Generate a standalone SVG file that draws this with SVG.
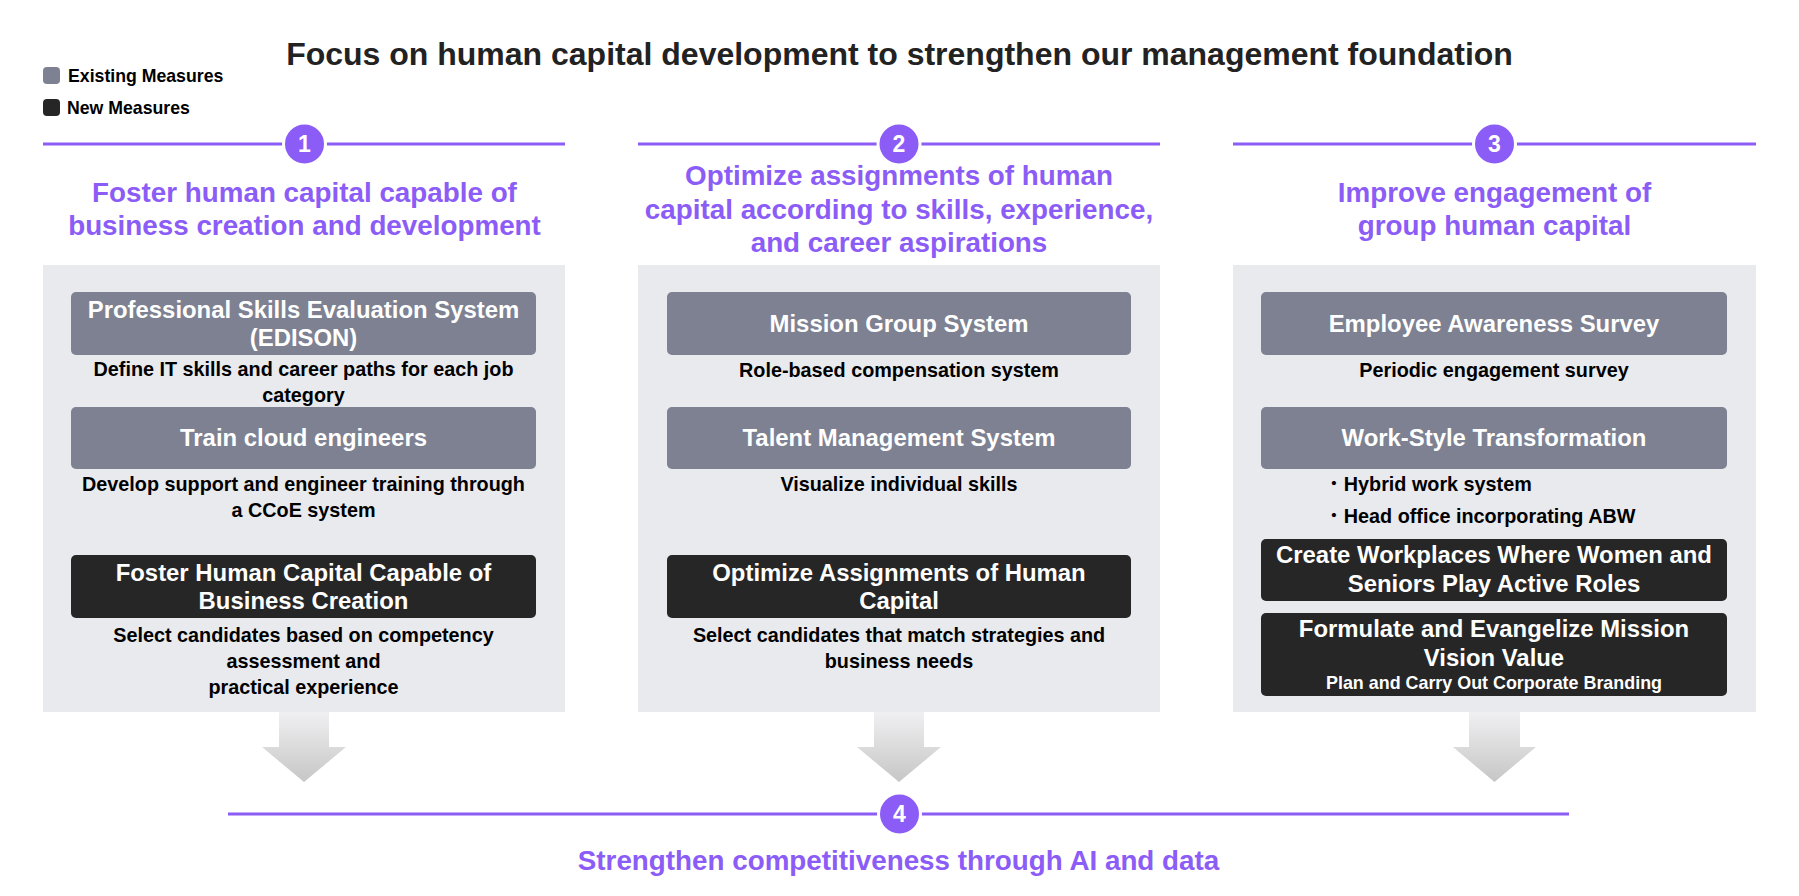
<svg xmlns="http://www.w3.org/2000/svg" width="1799" height="896" viewBox="0 0 1799 896">
<style>
  text { font-family: "Liberation Sans", Arial, "Noto Sans CJK JP", sans-serif; font-weight: bold; }
  .title { font-size: 32px; fill: #222222; text-anchor: middle; }
  .legend { font-size: 17.7px; fill: #000000; }
  .head { font-size: 27.8px; fill: #8b5cf6; text-anchor: middle; }
  .num { font-size: 23px; fill: #ffffff; text-anchor: middle; }
  .panel { fill: #e9eaee; }
  .exist { fill: #7d8191; }
  .new { fill: #262626; }
  .btitle { font-size: 23.9px; fill: #ffffff; text-anchor: middle; }
  .bsmall { font-size: 17.9px; fill: #ffffff; text-anchor: middle; }
  .desc { font-size: 19.8px; fill: #000000; text-anchor: middle; }
  .descl { font-size: 19.8px; fill: #000000; }
  .dot { font-family: "Noto Sans CJK JP", sans-serif; font-weight: normal; }
  .rule { stroke: #8b5cf6; stroke-width: 3; fill: none; }
  .badge { fill: #8b5cf6; stroke: #ffffff; stroke-width: 3; }
  .arrow { fill: url(#arrowGrad); }
</style>
<defs>
  <linearGradient id="arrowGrad" x1="0" y1="0" x2="0" y2="1">
    <stop offset="0" stop-color="#f0f0f2"/>
    <stop offset="1" stop-color="#c6c6c6"/>
  </linearGradient>
</defs>
<rect width="1799" height="896" fill="#ffffff"/>

<g id="title">
  <text class="title" x="899.5" y="65">Focus on human capital development to strengthen our management foundation</text>
</g>

<g id="legend">
  <rect class="exist" x="43" y="67" width="17" height="17" rx="4"/>
  <text class="legend" x="68" y="82">Existing Measures</text>
  <rect class="new" x="43" y="99" width="17" height="17" rx="4"/>
  <text class="legend" x="67" y="114">New Measures</text>
</g>

<!-- Column 1 -->
<g id="section1">
  <line class="rule" x1="43" y1="144" x2="565" y2="144"/>
  <circle class="badge" cx="304.5" cy="144" r="21"/>
  <text class="num" x="304.5" y="152">1</text>
  <text class="head" x="304.5" y="202">Foster human capital capable of</text>
  <text class="head" x="304.5" y="235">business creation and development</text>
  <rect class="panel" x="43" y="265" width="522" height="447"/>
</g>
<g id="c1-edison">
  <rect class="exist" x="71" y="292" width="465" height="63" rx="5"/>
  <text class="btitle" x="303.5" y="318">Professional Skills Evaluation System</text>
  <text class="btitle" x="303.5" y="346">(EDISON)</text>
  <text class="desc" x="303.5" y="376">Define IT skills and career paths for each job</text>
  <text class="desc" x="303.5" y="402">category</text>
</g>
<g id="c1-cloud">
  <rect class="exist" x="71" y="407" width="465" height="62" rx="5"/>
  <text class="btitle" x="303.5" y="446">Train cloud engineers</text>
  <text class="desc" x="303.5" y="491">Develop support and engineer training through</text>
  <text class="desc" x="303.5" y="517">a CCoE system</text>
</g>
<g id="c1-business">
  <rect class="new" x="71" y="555" width="465" height="63" rx="5"/>
  <text class="btitle" x="303.5" y="581">Foster Human Capital Capable of</text>
  <text class="btitle" x="303.5" y="609">Business Creation</text>
  <text class="desc" x="303.5" y="642">Select candidates based on competency</text>
  <text class="desc" x="303.5" y="668">assessment and</text>
  <text class="desc" x="303.5" y="694">practical experience</text>
</g>

<!-- Column 2 -->
<g id="section2">
  <line class="rule" x1="638" y1="144" x2="1160" y2="144"/>
  <circle class="badge" cx="899" cy="144" r="21"/>
  <text class="num" x="899" y="152">2</text>
  <text class="head" x="899" y="185">Optimize assignments of human</text>
  <text class="head" x="899" y="219">capital according to skills, experience,</text>
  <text class="head" x="899" y="252">and career aspirations</text>
  <rect class="panel" x="638" y="265" width="522" height="447"/>
</g>
<g id="c2-mission">
  <rect class="exist" x="667" y="292" width="464" height="63" rx="5"/>
  <text class="btitle" x="899" y="332">Mission Group System</text>
  <text class="desc" x="899" y="377">Role-based compensation system</text>
</g>
<g id="c2-talent">
  <rect class="exist" x="667" y="407" width="464" height="62" rx="5"/>
  <text class="btitle" x="899" y="446">Talent Management System</text>
  <text class="desc" x="899" y="491">Visualize individual skills</text>
</g>
<g id="c2-optimize">
  <rect class="new" x="667" y="555" width="464" height="63" rx="5"/>
  <text class="btitle" x="899" y="581">Optimize Assignments of Human</text>
  <text class="btitle" x="899" y="609">Capital</text>
  <text class="desc" x="899" y="642">Select candidates that match strategies and</text>
  <text class="desc" x="899" y="668">business needs</text>
</g>

<!-- Column 3 -->
<g id="section3">
  <line class="rule" x1="1233" y1="144" x2="1756" y2="144"/>
  <circle class="badge" cx="1494.5" cy="144" r="21"/>
  <text class="num" x="1494.5" y="152">3</text>
  <text class="head" x="1494.5" y="202">Improve engagement of</text>
  <text class="head" x="1494.5" y="235">group human capital</text>
  <rect class="panel" x="1233" y="265" width="523" height="447"/>
</g>
<g id="c3-survey">
  <rect class="exist" x="1261" y="292" width="466" height="63" rx="5"/>
  <text class="btitle" x="1494" y="332">Employee Awareness Survey</text>
  <text class="desc" x="1494" y="377">Periodic engagement survey</text>
</g>
<g id="c3-workstyle">
  <rect class="exist" x="1261" y="407" width="466" height="62" rx="5"/>
  <text class="btitle" x="1494" y="446">Work-Style Transformation</text>
  <text class="descl" x="1324" y="491"><tspan class="dot">・</tspan>Hybrid work system</text>
  <text class="descl" x="1324" y="523"><tspan class="dot">・</tspan>Head office incorporating ABW</text>
</g>
<g id="c3-women">
  <rect class="new" x="1261" y="539" width="466" height="62" rx="5"/>
  <text class="btitle" x="1494" y="563">Create Workplaces Where Women and</text>
  <text class="btitle" x="1494" y="592">Seniors Play Active Roles</text>
</g>
<g id="c3-mvv">
  <rect class="new" x="1261" y="613" width="466" height="83" rx="5"/>
  <text class="btitle" x="1494" y="637">Formulate and Evangelize Mission</text>
  <text class="btitle" x="1494" y="666">Vision Value</text>
  <text class="bsmall" x="1494" y="689">Plan and Carry Out Corporate Branding</text>
</g>

<g id="connectors">
  <polygon class="arrow" points="279,712 329,712 329,747 346,747 304,782 262,747 279,747"/>
  <polygon class="arrow" points="874,712 924,712 924,747 941,747 899,782 857,747 874,747"/>
  <polygon class="arrow" points="1469,712 1520,712 1520,747 1536,747 1494.5,782 1453,747 1469,747"/>
</g>

<g id="section4">
  <line class="rule" x1="228" y1="814" x2="1569" y2="814"/>
  <circle class="badge" cx="899.5" cy="814" r="21"/>
  <text class="num" x="899.5" y="822">4</text>
  <text class="head" x="898.5" y="870">Strengthen competitiveness through AI and data</text>
</g>
</svg>
